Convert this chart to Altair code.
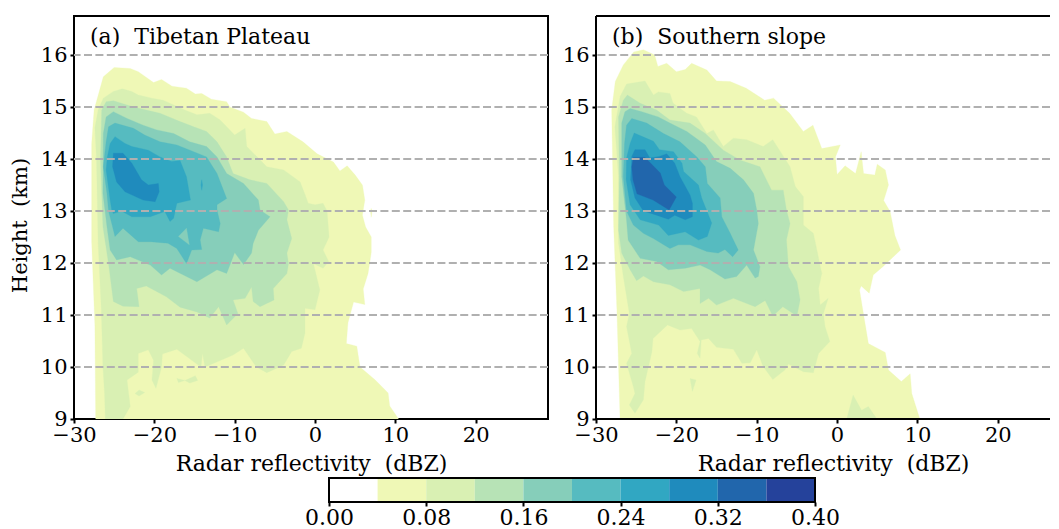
import altair as alt
import pandas as pd

FONT = "DejaVu Serif"
FS = 21
FS_TITLE = 22
XMIN = -30
XMAX_A = 29
XMAX_B = 26.5
YMIN, YMAX = 9, 16.75
X_TICKS = [-30, -20, -10, 0, 10, 20]
Y_TICKS = [9, 10, 11, 12, 13, 14, 15, 16]
GRID_Y = [10, 11, 12, 13, 14, 15, 16]
BIN_EDGES = [0.0, 0.04, 0.08, 0.12, 0.16, 0.20, 0.24, 0.28, 0.32, 0.36, 0.40]
BIN_COLORS = ["#FFFFFF", "#EFF8B6", "#D9F0B3", "#B7E3B6", "#86CEBA", "#56BBC0", "#31A7C2", "#1F8BBD", "#2166AC", "#25429B"]
CB_TICKS = [0.0, 0.08, 0.16, 0.24, 0.32, 0.40]

# Contours, panel (a)
A1 = [(-27.3,9),(-27.4,10.8),(-27.8,12.4),(-27.8,14.3),(-27.5,14.94),(-26.35,15.58),(-25,15.76),(-23,15.74),(-22,15.68),(-20.1,15.47),(-19.1,15.53),(-17.8,15.4),(-16,15.36),(-14.9,15.25),(-14.1,15.26),(-12.9,15.15),(-11,15.1),(-10.6,15),(-8.9,14.9),(-7.9,14.78),(-6,14.72),(-5,14.48),(-3.5,14.53),(-1.5,14.33),(0.26,14.1),(2.3,13.94),(3.1,13.77),(4,13.87),(5,13.69),(5.9,13.5),(6.2,13.21),(5.9,12.92),(6.3,12.69),(7,12.5),(7,12.2),(6.6,11.8),(6,11.5),(6.2,11.2),(4.8,11.25),(4.1,10.85),(3.9,10.45),(5.2,10.4),(5.6,10),(7.5,9.75),(9.1,9.5),(9.3,9.25),(10.4,9)]
A1B = [(6.9,13),(7,13.05),(7.1,13),(7,12.88)]
A2 = [(-26.1,9),(-26.2,9.5),(-26.4,10),(-26.6,11.1),(-27,12.4),(-27.2,14),(-27.4,14.6),(-27,14.94),(-26.35,15.17),(-25.1,15.3),(-24,15.35),(-22.8,15.3),(-22,15.23),(-20.3,15.17),(-18.9,15.13),(-17.6,15.04),(-16.2,14.94),(-14.7,14.85),(-13.1,14.88),(-11.8,14.75),(-10,14.46),(-8.7,14.59),(-8.5,14.24),(-6,13.85),(-3.9,13.79),(-1.85,13.56),(-1.2,13.3),(-0.85,13.15),(0,13.12),(1,13.15),(1.5,13),(1.75,12.5),(1,12.25),(1.7,12.03),(1,11.9),(-0.2,11.99),(0.6,11.48),(0,11.1),(-1.25,11.13),(-1.25,10.65),(-1.7,10.36),(-2.9,10.3),(-3.9,10.04),(-6,9.89),(-7.3,10),(-8.9,10.36),(-10.2,10.23),(-13.1,10.04),(-13.7,10),(-14,10.26),(-14.2,10),(-17.2,10.34),(-19,10.25),(-19.1,10),(-19.8,9.59),(-20.3,9.75),(-20.1,10.13),(-20.75,10.33),(-22,10.26),(-22,9.9),(-23.4,9.75),(-23,9.24),(-23.9,9)]
A2B = [(-17.2,9.78),(-16.2,9.74),(-14.9,9.83),(-14.6,9.74),(-15.6,9.69),(-16.2,9.74),(-17,9.7)]
A2C = [(-22.4,9.49),(-21.9,9.56),(-21.2,9.51),(-21.9,9.44)]
A3 = [(-26.55,14.94),(-26,15.1),(-25.1,15.12),(-22.6,15),(-21,14.94),(-19.3,14.88),(-16.8,14.72),(-15.1,14.62),(-13.5,14.53),(-12.2,14.33),(-11,14.04),(-10.2,13.72),(-8.1,13.6),(-6,13.53),(-3.9,13.18),(-3.3,13.02),(-3.5,12.83),(-2.9,12.47),(-3.5,12.19),(-3.3,11.99),(-3.5,11.8),(-5.2,11.51),(-5.1,11.29),(-6.85,11.16),(-7.7,11.26),(-7.9,11.54),(-8.7,11.32),(-10.2,11.29),(-9.6,11.03),(-11,10.81),(-12,11.16),(-13.1,10.94),(-14.7,11.06),(-16.8,11.15),(-18.5,11.35),(-21,11.56),(-22.2,11.51),(-21.9,11.16),(-23.9,11.17),(-25.1,11.26),(-25.7,11.99),(-26.4,12.7),(-26.7,13.98)]
A4 = [(-26.35,14.49),(-26,14.81),(-25.1,14.91),(-23.4,14.78),(-21.4,14.65),(-19.7,14.56),(-17.6,14.49),(-15.6,14.33),(-13.5,14.24),(-12.2,14.04),(-11,13.72),(-8.9,13.53),(-7.05,13.21),(-6.85,13.02),(-5.6,12.89),(-7.05,12.63),(-7.7,12.38),(-7.9,12.19),(-8.9,11.97),(-10,12.2),(-11,11.8),(-12.2,11.87),(-14.7,11.64),(-16,11.74),(-18.05,11.9),(-19.1,11.77),(-20.5,11.96),(-23,12.12),(-24.7,12.06),(-25.5,12.25),(-25.9,12.7),(-26.4,13.34)]
A5 = [(-26,14.33),(-25.7,14.62),(-24.9,14.69),(-22.6,14.59),(-21.2,14.46),(-19.3,14.33),(-17.2,14.27),(-15.1,14.14),(-13.5,14.04),(-12.2,13.72),(-11,13.24),(-12.2,13.12),(-12.2,13.02),(-11.8,12.76),(-12,12.6),(-13.9,12.67),(-14.3,12.44),(-14.1,12.26),(-15.35,12.25),(-16,11.99),(-17.2,12.28),(-18.3,12.38),(-20.5,12.41),(-22,12.41),(-23.9,12.67),(-24.9,12.51),(-25.3,12.76),(-25.7,13),(-25.9,13.34),(-26.35,13.85)]
A5H = [(-17,12.51),(-16,12.67),(-15.65,12.35)]
A6 = [(-25.85,14.04),(-25.5,14.3),(-24.9,14.43),(-23.65,14.3),(-22.8,14.24),(-20.75,14.17),(-19.3,14.04),(-17.85,13.95),(-16.8,13.97),(-16,13.66),(-15.5,13.21),(-17.2,13.15),(-17.6,12.86),(-18.05,12.8),(-18.7,12.99),(-20.5,12.89),(-22.8,12.89),(-24.1,13),(-25.1,12.95),(-25.3,13.02),(-25.5,13.21),(-26,13.79)]
A6B = [(-14.2,13.5),(-14.1,13.4),(-14,13.5),(-14.1,13.6)]
A7 = [(-25.1,14.11),(-23.9,14.11),(-22.8,13.92),(-21.6,13.6),(-20.75,13.5),(-19.5,13.53),(-19.4,13.37),(-19.9,13.18),(-21.4,13.21),(-23.65,13.37),(-24.7,13.56),(-25.2,13.85)]

# Contours, panel (b)
B1 = [(-27,9),(-27.4,11.1),(-27.8,12.7),(-27.9,13.66),(-28.05,14.94),(-27.6,15.49),(-26.6,15.81),(-25.3,16.06),(-24.1,16.1),(-22.7,16),(-22.3,15.78),(-21.2,15.84),(-20,15.68),(-18.9,15.72),(-18.1,15.84),(-16.2,15.71),(-15,15.5),(-13.3,15.49),(-11.3,15.36),(-9,15.13),(-7.9,15.17),(-5.9,14.88),(-4.2,14.53),(-3,14.65),(-1.9,14.2),(0.4,14.27),(-0.2,14.04),(0,13.7),(1,13.87),(2.3,13.72),(3,14.14),(3.3,13.72),(4.7,13.69),(5,13.9),(6,13.79),(6.4,13.5),(5.8,13.2),(6.6,12.99),(7.2,12.53),(7.9,12.25),(5.7,11.93),(4.5,11.77),(4,11.42),(3,11.56),(2.8,11.48),(3.2,11.1),(3.9,10.45),(6,10.28),(6.4,9.94),(8,9.72),(9.1,9.87),(9.3,9.49),(10.3,9)]
B2 = [(-25.85,9.27),(-25.15,9.11),(-24.1,9.37),(-23.9,9.72),(-23.05,10.29),(-22.9,10.55),(-21.1,10.81),(-19.55,10.71),(-18.1,10.74),(-17.05,10.49),(-17.4,10.26),(-17.05,10.17),(-16.9,10.52),(-16,10.55),(-15,10.38),(-12.9,10.34),(-11.85,10.07),(-10.8,10.08),(-10,10.33),(-9.2,10.01),(-8,9.76),(-6.5,9.94),(-6.05,10.06),(-4.2,9.91),(-2.95,9.89),(-2.3,10.26),(-0.9,10.49),(-1.5,10.78),(-1.7,11.03),(-1.1,11.32),(-2.1,11.19),(-2.3,11.51),(-1.9,11.8),(-2.95,12.57),(-4.2,12.73),(-4.2,13),(-4.2,13.28),(-5.2,13.47),(-5.85,13.85),(-8,14.37),(-9.2,14.24),(-11.25,14.37),(-12.9,14.4),(-14.15,14.24),(-15.4,14.56),(-16.2,14.49),(-17.5,14.81),(-18.7,14.88),(-20.4,15.07),(-20.8,15.26),(-22.25,15.29),(-22.85,15.23),(-23.9,15.5),(-26.2,15.44),(-27,15.2),(-27.65,14.62),(-27.2,13.66),(-27.2,12.38),(-26.6,11.74),(-25.85,11.03),(-26.2,10.78),(-25.55,10.26),(-26.2,10.07),(-25.35,9.62),(-25.15,9.49)]
B2B = [(-18.3,9.78),(-17.55,9.75),(-18,9.53)]
B2C = [(1.2,9),(2,9.46),(3.05,9.17),(3.9,9.24),(4.95,9)]
B3 = [(-27.2,14.81),(-26.6,15.13),(-26.1,15.23),(-24.5,15.07),(-22.45,14.94),(-20.8,14.75),(-18.3,14.69),(-16.4,14.49),(-14.15,14.17),(-12.1,13.98),(-9.6,13.85),(-8.15,13.4),(-6.7,13.4),(-6.3,13.02),(-5.85,12.76),(-6.3,12.44),(-6.05,11.93),(-5,11.64),(-4.6,11.29),(-5,10.98),(-6.75,11.16),(-8,10.98),(-8.95,11.28),(-10.2,11.16),(-12.9,11.32),(-15,11.19),(-16,11.32),(-17.05,11.22),(-17.05,11.51),(-19.1,11.45),(-20.8,11.58),(-22.85,11.64),(-24.1,11.75),(-24.95,11.66),(-25.75,11.87),(-26.8,12.19),(-27.2,12.63),(-27.1,13.66)]
B4 = [(-26.8,14.69),(-26.4,14.91),(-25.75,14.97),(-24.3,14.91),(-22.25,14.81),(-20.8,14.69),(-18.7,14.53),(-16.4,14.27),(-15,13.95),(-13.3,13.82),(-11.65,13.6),(-10.4,13.34),(-10,13.02),(-9.8,12.76),(-10.4,12.25),(-9.6,11.93),(-9.8,11.74),(-10.2,11.71),(-11.25,11.96),(-12.5,11.74),(-13.95,11.69),(-15.8,11.87),(-17.05,11.96),(-18.9,11.9),(-21,11.87),(-22.45,12.03),(-24.5,12.09),(-26,12.44),(-26.2,12.83),(-26.8,13.66)]
B5 = [(-26.45,14.3),(-26.2,14.65),(-25.55,14.78),(-23.7,14.69),(-21.6,14.49),(-19.55,14.33),(-17.45,14.04),(-16.4,13.85),(-16.15,13.53),(-14.55,13.25),(-14.35,12.89),(-13.3,12.57),(-12.3,12.25),(-13,12.12),(-13.95,12.26),(-14.8,12.19),(-16.2,12.22),(-18.3,12.35),(-19.75,12.35),(-20.8,12.28),(-22.85,12.47),(-24.1,12.57),(-25.35,12.73),(-26.2,13),(-26.6,13.66)]
B6 = [(-26.2,14.02),(-25.75,14.3),(-25.25,14.5),(-22.85,14.34),(-22.1,14.18),(-20.35,14.14),(-19.3,13.92),(-19.1,13.76),(-17.25,13.5),(-16.85,13.25),(-15.6,12.77),(-16.15,12.51),(-17.25,12.44),(-18.9,12.6),(-21,12.53),(-22.2,12.73),(-24.5,12.83),(-25.75,13.12),(-26.25,13.6)]
B7 = [(-25.55,14.05),(-25.15,14.18),(-23.9,14.18),(-23.3,14.02),(-22.1,14.05),(-21.2,14.1),(-20.2,13.92),(-19.55,13.66),(-18.3,13.31),(-18,13.15),(-18,12.89),(-18.9,12.83),(-20.2,12.92),(-21,12.84),(-22.65,12.93),(-24.1,13),(-25.15,13.25),(-25.7,13.6)]
B8 = [(-25.35,14.03),(-23.9,14.03),(-22,13.73),(-21.5,13.5),(-20,13.27),(-20.9,13.02),(-22.9,13.21),(-24.9,13.33),(-25.4,13.6),(-25.55,13.85)]

PANEL_A = [(1,A1),(1,A1B),(2,A2),(2,A2B),(2,A2C),(3,A3),(4,A4),(5,A5),(4,A5H),(6,A6),(6,A6B),(7,A7)]
PANEL_B = [(1,B1),(2,B2),(2,B2B),(2,B2C),(3,B3),(4,B4),(5,B5),(6,B6),(7,B7),(8,B8)]

y_scale = alt.Scale(domain=[YMIN, YMAX], nice=False, zero=False)

def panel(polys, label, show_title, xmax, width, open_right):
    x_scale = alt.Scale(domain=[XMIN, xmax], nice=False, zero=False)
    x_axis = alt.Axis(values=X_TICKS, format="d", title="Radar reflectivity\u00a0\u00a0(dBZ)", titleFontSize=FS_TITLE, titleX=237, grid=False, domain=False, tickColor="black", tickWidth=2, tickSize=4, labelFlush=False, labelPadding=1, titlePadding=8)
    y_axis = alt.Axis(values=Y_TICKS, format="d", title="Height\u00a0\u00a0(km)" if show_title else None, titleFontSize=FS, titleY=209, grid=False, domain=False, tickColor="black", tickWidth=2, tickSize=4, labelPadding=3, titlePadding=17, labelFlush=False, minExtent=27, maxExtent=27)
    X = alt.X("x:Q", scale=x_scale, axis=x_axis)
    Y = alt.Y("y:Q", scale=y_scale, axis=y_axis)
    layers = []
    for level, pts in polys:
        closed = list(pts) + [pts[0]]
        df = pd.DataFrame({"x": [p[0] for p in closed], "y": [p[1] for p in closed], "i": range(len(closed))})
        c = BIN_COLORS[level]
        layers.append(alt.Chart(df).mark_line(fill=c, stroke=c, strokeWidth=0.3, clip=True).encode(x=X, y=Y, order=alt.Order("i:Q")))
    grid = alt.Chart(pd.DataFrame({"y": GRID_Y})).mark_rule(color="#B0B0B0", strokeWidth=2, strokeDash=[8, 3.4], clip=True).encode(y=Y)
    text = alt.Chart(pd.DataFrame({"t": [label]})).mark_text(align="left", baseline="middle", font=FONT, fontSize=FS_TITLE, color="black").encode(
        text="t:N", x=alt.value(16), y=alt.value(21))
    parts = layers + [grid, text]
    props = dict(width=width, height=403)
    if open_right:
        dummy = pd.DataFrame({"k": [0]})
        rule = alt.Chart(dummy).mark_rule(color="black", strokeWidth=2)
        parts += [
            rule.encode(x=alt.value(0), x2=alt.value(width), y=alt.value(0)),
            rule.encode(x=alt.value(0), x2=alt.value(width), y=alt.value(403)),
            rule.encode(x=alt.value(0), y=alt.value(0), y2=alt.value(403)),
        ]
        props["view"] = alt.ViewConfig(stroke=None)
    return alt.layer(*parts).properties(**props)

a = panel(PANEL_A, "(a)\u00a0\u00a0Tibetan Plateau", True, XMAX_A, 474, False)
b = panel(PANEL_B, "(b)\u00a0\u00a0Southern slope", False, XMAX_B, 454, True)

cb_df = pd.DataFrame({"lo": BIN_EDGES[:-1], "hi": BIN_EDGES[1:], "c": BIN_COLORS})
cb_scale = alt.Scale(domain=[0, 0.4], range=[255, 741], nice=False, zero=False)
cb_axis = alt.Axis(values=CB_TICKS, format=".2f", title=None, grid=False, domain=False, tickColor="black", tickWidth=2, tickSize=4, labelPadding=1, labelFlush=False, labelFontSize=FS_TITLE)
bars = alt.Chart(cb_df).mark_rect().encode(
    x=alt.X("lo:Q", scale=cb_scale, axis=cb_axis),
    x2="hi:Q",
    y=alt.value(0), y2=alt.value(24),
    fill=alt.Fill("c:N", scale=None),
)
frame = alt.Chart(pd.DataFrame({"lo": [0.0], "hi": [0.4]})).mark_rect(fillOpacity=0, stroke="black", strokeWidth=2).encode(
    x=alt.X("lo:Q", scale=cb_scale, axis=cb_axis), x2="hi:Q", y=alt.value(0), y2=alt.value(24))
cbar = alt.layer(bars, frame).properties(width=900, height=24, view=alt.ViewConfig(stroke=None))

chart = alt.vconcat(alt.hconcat(a, b, spacing=13), cbar, spacing=2).properties(padding={"left": 0, "top": 7, "right": 0, "bottom": 0}).configure_view(stroke="black", strokeWidth=2).configure_axis(
    labelFont=FONT, titleFont=FONT, labelFontSize=FS, titleFontSize=FS, labelColor="black", titleColor="black", titleFontWeight="normal"
)

chart.save("out.html", embed_options={"renderer": "svg", "actions": False})
